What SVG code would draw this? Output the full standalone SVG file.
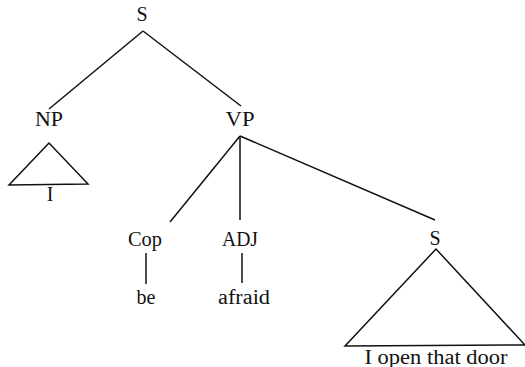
<svg xmlns="http://www.w3.org/2000/svg" width="525" height="367" viewBox="0 0 525 367">
<style>
text{font-family:"Liberation Serif","Times New Roman",serif;font-size:20px;fill:#111;text-anchor:middle}
.e{stroke:#111;stroke-width:1.5;fill:none;stroke-linejoin:miter}
</style>
<rect width="525" height="367" fill="#fff"/>
<g id="connectors">
<line class="e" x1="143" y1="31" x2="49" y2="109"/>
<line class="e" x1="143" y1="31" x2="241" y2="106"/>
<line class="e" x1="240" y1="136" x2="170" y2="222"/>
<line class="e" x1="240" y1="136" x2="240" y2="220"/>
<line class="e" x1="240" y1="136" x2="435" y2="220"/>
<line class="e" x1="146" y1="253" x2="146" y2="284"/>
<line class="e" x1="242" y1="253" x2="242" y2="283"/>
</g>
<g id="S_root"><text x="142" y="21">S</text></g>
<g id="NP"><text x="49" y="126" textLength="28" lengthAdjust="spacingAndGlyphs">NP</text>
<polygon class="e" points="49,143 9,185 88,184"/></g>
<g id="I"><text x="50" y="201">I</text></g>
<g id="VP"><text x="240" y="126" textLength="29" lengthAdjust="spacingAndGlyphs">VP</text></g>
<g id="Cop"><text x="145" y="246" textLength="34" lengthAdjust="spacingAndGlyphs">Cop</text></g>
<g id="be"><text x="146" y="304">be</text></g>
<g id="ADJ"><text x="240" y="246" textLength="36" lengthAdjust="spacingAndGlyphs">ADJ</text></g>
<g id="afraid"><text x="244" y="304" textLength="52" lengthAdjust="spacingAndGlyphs">afraid</text></g>
<g id="S_emb"><text x="435" y="245">S</text>
<polygon class="e" points="436,249 345,346 525,345"/></g>
<g id="clause"><text x="436" y="364" textLength="143" lengthAdjust="spacingAndGlyphs">I open that door</text></g>
</svg>
